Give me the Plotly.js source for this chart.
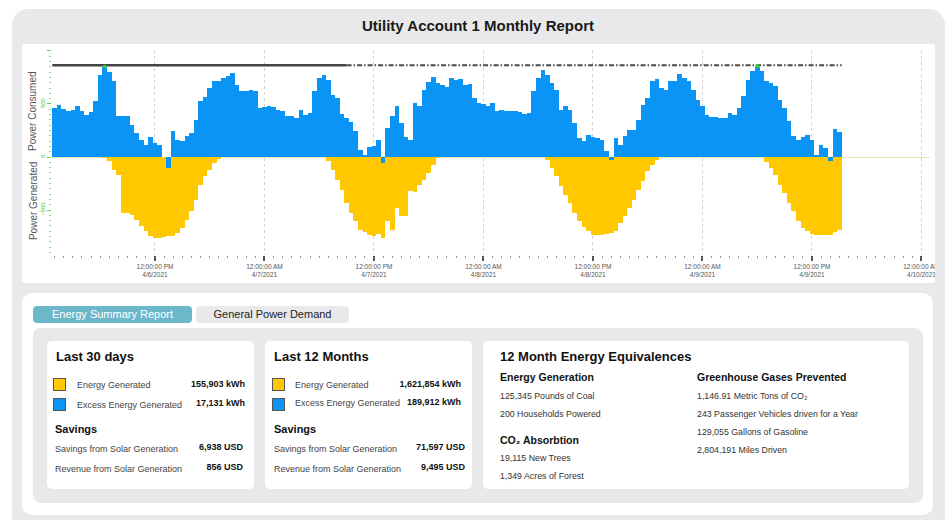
<!DOCTYPE html>
<html><head><meta charset="utf-8">
<script src="https://cdn.plot.ly/plotly-3.0.1.min.js"></script>
<style>
html,body{margin:0;padding:0;background:#fff;width:948px;height:520px;overflow:hidden;font-family:'Liberation Sans',Arial,sans-serif;}
.abs{position:absolute;}
.t{position:absolute;white-space:nowrap;line-height:1;transform:translateY(-50%);}
.r{transform:translate(-100%,-50%);}
.h1{font-weight:bold;font-size:13px;color:#111;}
.h2{font-weight:bold;font-size:10.5px;color:#111;}
.lb{font-size:9px;color:#444;}
.vl{font-size:9px;font-weight:bold;color:#111;}
.it{font-size:8.8px;color:#333;}
.sq{position:absolute;width:11px;height:11px;border:1px solid #555;}
.card{position:absolute;background:#fff;border-radius:5px;}
</style></head>
<body>
<div class="abs" style="left:12px;top:9px;width:933px;height:540px;background:#e9e9eb;border-radius:16px;"></div>
<div class="t" style="left:478px;top:25px;transform:translate(-50%,-50%);font-weight:bold;font-size:15px;color:#1a1a1a;">Utility Account 1 Monthly Report</div>
<div class="abs" style="left:22px;top:44px;width:913px;height:239px;background:#fff;border-radius:3px;overflow:hidden;"><div id="chart" style="width:913px;height:239px;"></div></div>

<div class="abs" style="left:22px;top:293px;width:911px;height:222px;background:#fff;border-radius:10px;"></div>
<div class="abs" style="left:33px;top:306px;width:159px;height:17px;background:#6db7cb;border-radius:4px;color:#fff;font-size:11px;line-height:17px;text-align:center;">Energy Summary Report</div>
<div class="abs" style="left:196px;top:306px;width:153px;height:17px;background:#e9e9eb;border-radius:4px;color:#222;font-size:11px;line-height:17px;text-align:center;">General Power Demand</div>
<div class="abs" style="left:33px;top:328px;width:890px;height:175px;background:#e9e9eb;border-radius:8px;"></div>

<div class="card" style="left:47px;top:341px;width:207px;height:148px;"></div>
<div class="t h1" style="left:56px;top:356px;">Last 30 days</div>
<div class="sq" style="left:53px;top:378px;background:#ffc800;"></div>
<div class="t lb" style="left:77px;top:385px;">Energy Generated</div>
<div class="t vl r" style="left:245px;top:384px;">155,903 kWh</div>
<div class="sq" style="left:53px;top:398px;background:#0a94f5;"></div>
<div class="t lb" style="left:77px;top:405px;">Excess Energy Generated</div>
<div class="t vl r" style="left:245px;top:403px;">17,131 kWh</div>
<div class="t h2" style="left:55px;top:429px;font-size:11px;">Savings</div>
<div class="t lb" style="left:55px;top:449px;">Savings from Solar Generation</div>
<div class="t vl r" style="left:243px;top:447px;">6,938 USD</div>
<div class="t lb" style="left:55px;top:469px;">Revenue from Solar Generation</div>
<div class="t vl r" style="left:243px;top:467px;">856 USD</div>

<div class="card" style="left:265px;top:341px;width:207px;height:148px;"></div>
<div class="t h1" style="left:274px;top:356px;">Last 12 Months</div>
<div class="sq" style="left:272px;top:378px;background:#ffc800;"></div>
<div class="t lb" style="left:295px;top:385px;">Energy Generated</div>
<div class="t vl r" style="left:461px;top:384px;">1,621,854 kWh</div>
<div class="sq" style="left:272px;top:398px;background:#0a94f5;"></div>
<div class="t lb" style="left:295px;top:403px;">Excess Energy Generated</div>
<div class="t vl r" style="left:461px;top:402px;">189,912 kWh</div>
<div class="t h2" style="left:274px;top:429px;font-size:11px;">Savings</div>
<div class="t lb" style="left:274px;top:449px;">Savings from Solar Generation</div>
<div class="t vl r" style="left:465px;top:447px;">71,597 USD</div>
<div class="t lb" style="left:274px;top:469px;">Revenue from Solar Generation</div>
<div class="t vl r" style="left:465px;top:467px;">9,495 USD</div>

<div class="card" style="left:483px;top:341px;width:426px;height:148px;"></div>
<div class="t h1" style="left:500px;top:356px;">12 Month Energy Equivalences</div>
<div class="t h2" style="left:500px;top:377px;">Energy Generation</div>
<div class="t it" style="left:500px;top:396px;">125,345 Pounds of Coal</div>
<div class="t it" style="left:500px;top:414px;">200 Households Powered</div>
<div class="t h2" style="left:500px;top:440px;">CO₂ Absorbtion</div>
<div class="t it" style="left:500px;top:458px;">19,115 New Trees</div>
<div class="t it" style="left:500px;top:476px;">1,349 Acres of Forest</div>
<div class="t h2" style="left:697px;top:377px;">Greenhouse Gases Prevented</div>
<div class="t it" style="left:697px;top:396px;">1,146.91 Metric Tons of CO₂</div>
<div class="t it" style="left:697px;top:414px;">243 Passenger Vehicles driven for a Year</div>
<div class="t it" style="left:697px;top:432px;">129,055 Gallons of Gasoline</div>
<div class="t it" style="left:697px;top:450px;">2,804,191 Miles Driven</div>

<script>
const startTime = '2021-04-06T01:00:00Z';
const stepMinutes = 30;
const consumed = [
 462,487,455,436,446,477,430,400,424,530,776,845,800,713,383,383,383,298,226,163,110,185,132,116,0,-104,242,163,148,195,226,352,524,562,650,719,713,744,760,791,681,625,619,
 634,619,462,468,477,468,446,430,383,383,367,446,399,414,619,744,776,728,587,556,405,367,330,242,69,22,91,100,163,-60,273,383,477,320,185,163,509,477,634,707,750,697,675,656,
 744,728,740,675,690,556,509,499,477,509,436,446,430,430,436,424,408,414,619,744,820,776,697,634,446,477,446,320,179,148,204,192,179,160,53,-25,179,116,195,258,258,352,493,556,
 713,738,650,634,713,719,780,744,713,634,540,477,399,377,377,367,364,414,399,462,571,728,807,850,807,713,697,666,540,462,336,201,163,192,204,163,22,116,85,-41,264,240
];
const generated = [
 0,0,0,0,0,0,0,0,0,0,0,-10,-41,-119,-170,-528,-528,-543,-590,-653,-700,-747,-763,-763,-757,-747,-747,-716,-669,-590,-512,-402,-261,-182,-119,-57,-16,0,0,0,0,0,0,
 0,0,0,0,0,0,0,0,0,0,0,0,0,0,0,0,0,-41,-119,-214,-308,-433,-528,-606,-684,-710,-732,-747,-725,-763,-600,-684,-480,-560,-559,-323,-330,-261,-214,-151,-72,-10,0,0,
 0,0,0,0,0,0,0,0,0,0,0,0,0,0,0,0,0,0,0,0,0,-25,-104,-182,-276,-355,-433,-528,-606,-663,-700,-732,-732,-732,-725,-719,-700,-622,-559,-480,-402,-308,-229,-135,
 -72,-25,0,0,0,0,0,0,0,0,0,0,0,0,0,0,0,0,0,0,0,0,0,0,0,-47,-104,-166,-261,-339,-433,-512,-606,-669,-700,-725,-732,-738,-738,-732,-707,-684
];
const limitValues = [865, 865];
const limitSolidTimes = ['2021-04-06 00:45', '2021-04-07 09:00'];
const limitDashTimes = ['2021-04-07 09:00', '2021-04-09 15:15'];
const peakTimes = ['2021-04-06 06:30', '2021-04-09 06:00'];
const peakValues = [850, 858];
const xRange = ['2021-04-06 00:43', '2021-04-10 00:56'];
const yRange = [-924, 1009];
const tickFormat = '%I:%M:%S %p<br>%-m/%-d/%Y';

const t0 = Date.parse(startTime);
const times = consumed.map((_, i) => new Date(t0 + i * stepMinutes * 60000).toISOString().slice(0, 19).replace('T', ' '));
const barWidth = stepMinutes * 60000;

const traces = [
  {type:'bar', x:times, y:generated, width:barWidth, marker:{color:'#ffc800', line:{width:0}}, name:'Power Generated'},
  {type:'bar', x:times, y:consumed, width:barWidth, marker:{color:'#0a94f5', line:{width:0}}, name:'Power Consumed'},
  {type:'scatter', mode:'lines', x:limitSolidTimes, y:limitValues, line:{color:'#454545', width:2.5}},
  {type:'scatter', mode:'lines', x:limitDashTimes, y:limitValues, line:{color:'#4a4a4a', width:2, dash:'5px,2px,1.5px,2px'}},
  {type:'scatter', mode:'markers', x:peakTimes, y:peakValues, marker:{color:'#2ecc40', size:4}}
];

const layout = {
  width:913, height:239,
  margin:{l:30, r:5, t:6, b:28, pad:0},
  paper_bgcolor:'rgba(0,0,0,0)', plot_bgcolor:'#fff',
  showlegend:false, barmode:'overlay', bargap:0,
  font:{family:'Liberation Sans, Arial, sans-serif'},
  xaxis:{type:'date', range:xRange, tick0:'2021-04-06 12:00', dtick:12*3600000, tickformat:tickFormat,
    ticks:'outside', ticklen:5, tickwidth:2, tickcolor:'#555', showline:false, zeroline:false,
    ticklabeloverflow:'allow',
    showgrid:true, gridcolor:'#d2d2d2', griddash:'dot', gridwidth:1,
    tickfont:{size:6.5, color:'#555'},
    minor:{dtick:3600000, tick0:'2021-04-06 12:00', ticks:'outside', ticklen:2, tickcolor:'#999', tickwidth:1, showgrid:false}},
  xaxis2:{type:'date', overlaying:'x', anchor:'y', side:'bottom', range:xRange, tick0:'2021-04-06 12:00', dtick:3*3600000,
    ticks:'outside', ticklen:3.5, tickcolor:'#777', tickwidth:1, showticklabels:false, showgrid:false, zeroline:false, showline:false},
  yaxis:{range:yRange, tick0:0, dtick:500, ticks:'outside', ticklen:4, tickcolor:'#5fd35f', tickangle:-90,
    tickfont:{size:6, color:'#3dc83d'}, showgrid:false, showline:false,
    zeroline:true, zerolinecolor:'#dfe8b8', zerolinewidth:1,
    minor:{dtick:50, ticks:'outside', ticklen:2, tickcolor:'#7fdc7f', showgrid:false}},
  annotations:[
    {text:'Power Consumed', xref:'paper', yref:'y', x:-0.0216, y:425, xanchor:'center', yanchor:'middle', textangle:-90, showarrow:false, font:{size:10, color:'#555'}},
    {text:'Power Generated', xref:'paper', yref:'y', x:-0.0216, y:-415, xanchor:'center', yanchor:'middle', textangle:-90, showarrow:false, font:{size:10, color:'#555'}}
  ]
};

Plotly.newPlot('chart', traces, layout, {displayModeBar:false, staticPlot:true});
</script>
</body></html>
